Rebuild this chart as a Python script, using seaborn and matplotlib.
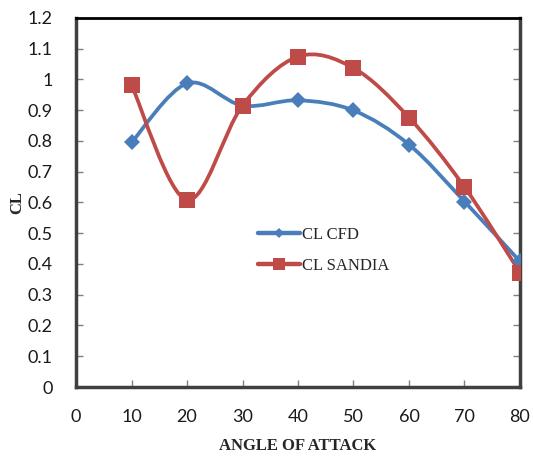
import numpy as np
import pandas as pd
import seaborn as sns
import matplotlib
matplotlib.use("Agg")
import matplotlib.pyplot as plt
from matplotlib.path import Path
from matplotlib.patches import PathPatch
from matplotlib.lines import Line2D

angles = [10, 20, 30, 40, 50, 60, 70, 80]
cl_cfd = [0.795, 0.987, 0.915, 0.932, 0.899, 0.788, 0.603, 0.408]
cl_sandia = [0.982, 0.608, 0.915, 1.074, 1.037, 0.876, 0.650, 0.372]
series_names = ["CL CFD", "CL SANDIA"]
x_ticks = [0, 10, 20, 30, 40, 50, 60, 70, 80]
y_ticks = [0, 0.1, 0.2, 0.3, 0.4, 0.5, 0.6, 0.7, 0.8, 0.9, 1, 1.1, 1.2]
y_tick_labels = ["0", "0.1", "0.2", "0.3", "0.4", "0.5", "0.6", "0.7", "0.8", "0.9", "1", "1.1", "1.2"]

sns.set_style("white")
plt.rcParams['font.family'] = ['Lato', 'DejaVu Sans']

BLUE = "#4A7EBB"
RED = "#BE4B48"

fig = plt.figure(figsize=(5.33, 4.58), dpi=100)
ax = fig.add_axes([0.1426, 0.155, 0.833, 0.806])

df = pd.DataFrame({
    "angle": angles * 2,
    "cl": cl_cfd + cl_sandia,
    "series": [series_names[0]] * len(angles) + [series_names[1]] * len(angles),
})


def smooth_path(xs, ys):
    pts = np.column_stack([xs, ys]).astype(float)
    n = len(pts)
    verts = [pts[0]]
    codes = [Path.MOVETO]
    for i in range(n - 1):
        p0 = pts[i - 1] if i > 0 else pts[i]
        p1 = pts[i]
        p2 = pts[i + 1]
        p3 = pts[i + 2] if i + 2 < n else pts[i + 1]
        c1 = p1 + (p2 - p0) / 6.0
        c2 = p2 - (p3 - p1) / 6.0
        verts += [c1, c2, p2]
        codes += [Path.CURVE4] * 3
    return Path(verts, codes)


for name, ys, col in [(series_names[0], cl_cfd, BLUE), (series_names[1], cl_sandia, RED)]:
    patch = PathPatch(smooth_path(angles, ys), facecolor="none", edgecolor=col,
                      lw=2.7, zorder=2, capstyle="round", joinstyle="round")
    ax.add_patch(patch)

sns.lineplot(data=df, x="angle", y="cl", hue="series", style="series",
             markers={series_names[0]: "D", series_names[1]: "s"},
             palette={series_names[0]: BLUE, series_names[1]: RED},
             linewidth=0, markeredgewidth=0, dashes=False,
             ax=ax, legend=False, zorder=3)
for ln in ax.lines:
    c = matplotlib.colors.to_hex(ln.get_color()).upper()
    if c == BLUE.upper():
        ln.set_markersize(8)
    else:
        ln.set_markersize(11.5)

ax.set_xlim(0, 80)
ax.set_ylim(0, 1.2)
ax.set_xticks(x_ticks)
ax.set_xticklabels([str(t) for t in x_ticks])
ax.set_yticks(y_ticks)
ax.set_yticklabels(y_tick_labels)

ax.tick_params(axis="both", direction="in", length=5, width=1, color="#808080",
               labelsize=13, labelcolor="#1a1a1a")
ax.tick_params(axis="y", right=True, left=True, pad=17)
ax.tick_params(axis="x", bottom=True, top=False, pad=16)

for side in ["left", "bottom", "right"]:
    ax.spines[side].set_linewidth(2.5)
    ax.spines[side].set_color("#404040")
ax.spines["top"].set_linewidth(2.0)
ax.spines["top"].set_color("#000000")

ax.set_xlabel("ANGLE OF ATTACK", family=["Liberation Serif"], fontweight="bold",
              fontsize=12)
ax.xaxis.set_label_coords(0.5, -0.160)
ax.xaxis.label.set_va("center")
ax.set_ylabel("CL", family=["Liberation Serif"], fontweight="bold", fontsize=12)
ax.yaxis.set_label_coords(-0.133, 0.5)
ax.yaxis.label.set_va("center")

handles = [
    Line2D([], [], color=BLUE, lw=3.2, marker="D", markersize=5, markeredgewidth=0),
    Line2D([], [], color=RED, lw=3.2, marker="s", markersize=8, markeredgewidth=0),
]
leg = ax.legend(handles, series_names, loc="upper left",
                bbox_to_anchor=(0.484, 0.505), bbox_transform=fig.transFigure,
                frameon=False, handlelength=2.5, handletextpad=0.15,
                borderpad=0, borderaxespad=0,
                labelspacing=0.9, prop={"family": "Liberation Serif", "size": 12})

fig.savefig("out.png", dpi=100)
